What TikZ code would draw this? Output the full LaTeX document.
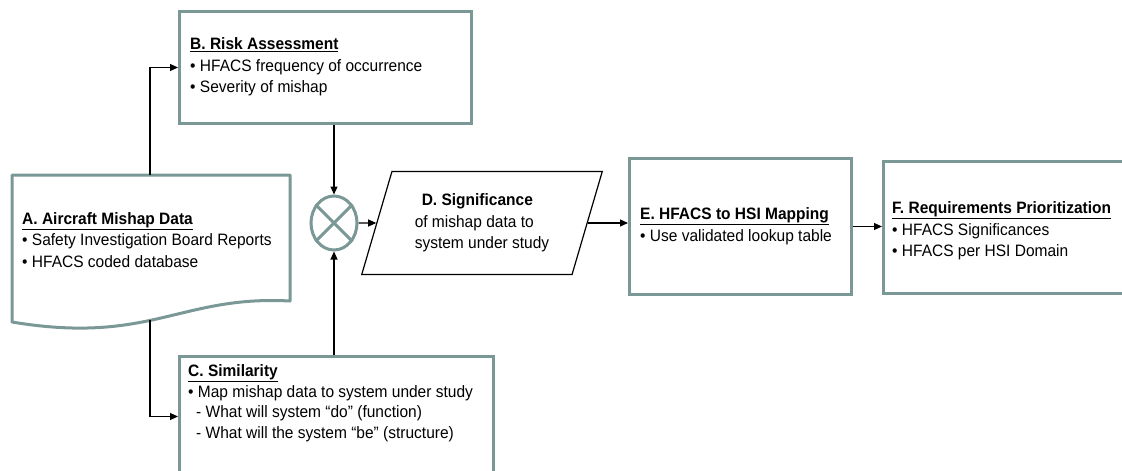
\documentclass[tikz,border=0pt]{standalone}
\usepackage{fontspec}
\setmainfont{Liberation Sans}[FakeStretch=0.94]
\usepackage{xcolor}
\usetikzlibrary{positioning, arrows.meta, shapes.geometric}
\definecolor{panelline}{RGB}{122,152,150}

\begin{document}
\begin{tikzpicture}[x=1pt, y=-1pt,
  every node/.style={font=\fontsize{16.5}{21.5}\selectfont},
  panel/.style={draw=panelline, line width=3pt, fill=white, rectangle, anchor=north west, inner sep=0pt},
  note/.style={align=left, anchor=west, inner sep=0pt},
  flow/.style={-{Triangle[length=8pt,width=7pt]}, line width=1.1pt}]
  \clip (0,0) rectangle (1122,471);
  \fill[white] (0,0) rectangle (1122,471);

  % Mishap data (document shape)
  \draw[panelline, line width=3pt, fill=white, line join=round]
    (12,175) -- (290,175) -- (290,301) .. controls (180,295) and (150,345) .. (12,322) -- cycle;
  \node[note] (mishap) at (22,240) {\underline{\textbf{A. Aircraft Mishap Data}}\\
    • Safety Investigation Board Reports\\
    • HFACS coded database};
  \coordinate (atop) at (150,175);
  \coordinate (abot) at (150,320);

  % Boxes
  \node[panel, minimum width=292pt, minimum height=112pt] (risk) at (178,10) {};
  \node[note] (risktxt) at (190,67) {\underline{\textbf{B. Risk Assessment}}\\
    • HFACS frequency of occurrence\\
    • Severity of mishap};
  \node[panel, minimum width=314pt, minimum height=120pt] (simil) at (178,355) {};
  \node[note, font=\fontsize{16.5}{20.5}\selectfont] (similtxt) at (188,403) {\underline{\textbf{C. Similarity}}\\
    • Map mishap data to system under study\\
    \hspace*{8pt}- What will system “do” (function)\\
    \hspace*{8pt}- What will the system “be” (structure)};
  \node[panel, minimum width=222pt, minimum height=136pt] (mapping) at (628,157) {};
  \node[note] (mappingtxt) at (640,226) {\underline{\textbf{E. HFACS to HSI Mapping}}\\
    • Use validated lookup table};
  \node[panel, minimum width=260pt, minimum height=132pt] (prior) at (882,160) {};
  \node[note] (priortxt) at (892,231) {\underline{\textbf{F. Requirements Prioritization}}\\
    • HFACS Significances\\
    • HFACS per HSI Domain};

  % Combine and significance
  \node[draw=panelline, line width=3pt, ellipse, minimum width=46pt, minimum height=54pt, inner sep=0pt] (mix) at (334,223) {};
  \draw[panelline, line width=3pt] (mix.135) -- (mix.-45) (mix.45) -- (mix.-135);
  \node[draw, line width=1.2pt, trapezium, trapezium left angle=70, trapezium right angle=110,
    trapezium stretches=true, minimum width=241pt, minimum height=103pt, align=left] (signif) at (482,223)
    {\hspace*{7pt}\textbf{D. Significance}\\ of mishap data to\\ system under study};

  % Arrows
  \draw[flow] (atop) |- (risk.west);
  \draw[flow] (abot) |- (simil.west);
  \draw[flow] (mix |- risk.south) -- (mix.north);
  \draw[flow] (mix |- simil.north) -- (mix.south);
  \draw[flow] (mix) -- (signif);
  \draw[flow] (signif.east) -- (signif.east -| mapping.west);
  \draw[flow] (mapping.east) -- (mapping.east -| prior.west);
\end{tikzpicture}
\end{document}
